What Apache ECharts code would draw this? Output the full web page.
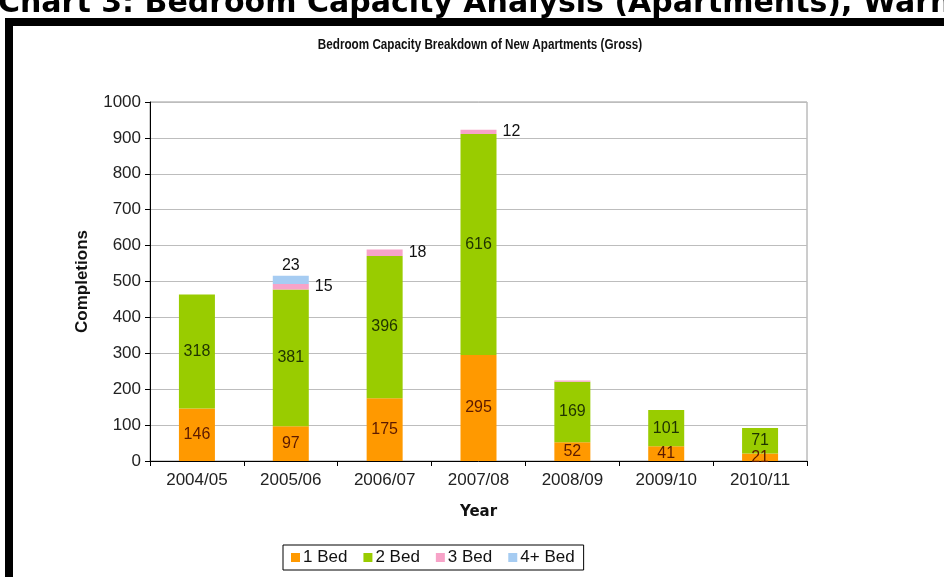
<!DOCTYPE html>
<html>
<head>
<meta charset="utf-8">
<style>
  html, body { margin: 0; padding: 0; background: #fff; }
  #chart { width: 944px; height: 577px; }
</style>
<script src="https://cdn.jsdelivr.net/npm/echarts@6/dist/echarts.min.js"></script>
</head>
<body>
<div id="chart"></div>
<script>
// Financial years on the category axis
const years = ['2004/05', '2005/06', '2006/07', '2007/08', '2008/09', '2009/10', '2010/11'];

// Completions by bedroom count
const oneBed  = [146, 97, 175, 295, 52, 41, 21];
const twoBed  = [318, 381, 396, 616, 169, 101, 71];
const threeBed = [0, 15, 18, 12, 3, 0, 0];
const fourPlusBed = [0, 23, 0, 0, 0, 0, 0];

// Which small segments carry a value label
const threeBedLabelled = [false, true, true, true, false, false, false];
const fourBedLabelled  = [false, true, false, false, false, false, false];

// Value-axis ticks
const yTicks = { min: 0, max: 1000, interval: 100 };

const seriesNames = ['1 Bed', '2 Bed', '3 Bed', '4+ Bed'];

const chartTitle = 'Bedroom Capacity Breakdown of New Apartments (Gross)';
const pageHeading = 'Chart 3: Bedroom Capacity Analysis (Apartments), Warnings';

const chart = echarts.init(document.getElementById('chart'), null, { renderer: 'canvas' });

const plain = "'Liberation Sans', Arial, sans-serif";

function withLabels(values, flags, labelCfg) {
  return values.map((v, i) => ({
    value: v,
    label: flags[i] ? labelCfg : { show: false }
  }));
}

const option = {
  backgroundColor: '#ffffff',
  animation: false,
  graphic: [
    {
      type: 'text',
      left: -2,
      top: -11,
      style: {
        text: pageHeading,
        font: "bold 30px 'DejaVu Sans', Verdana, sans-serif",
        fill: '#000'
      }
    },
    { type: 'rect', shape: { x: 5, y: 18, width: 939, height: 8 }, style: { fill: '#000' } },
    { type: 'rect', shape: { x: 5, y: 18, width: 8, height: 559 }, style: { fill: '#000' } },
    {
      // condensed bold chart title
      type: 'text',
      x: 480,
      y: 45,
      scaleX: 0.78,
      style: {
        text: chartTitle,
        font: "bold 15px 'Liberation Sans', Arial, sans-serif",
        fill: '#111',
        textAlign: 'center',
        textVerticalAlign: 'middle'
      }
    }
  ],
  legend: {
    data: seriesNames,
    bottom: 7,
    left: 283,
    icon: 'rect',
    itemWidth: 9,
    itemHeight: 9,
    itemGap: 16,
    padding: [4, 9, 4, 8],
    borderColor: '#000',
    borderWidth: 1,
    textStyle: { fontFamily: plain, fontSize: 17, color: '#111', padding: [0, 0, 0, -2] }
  },
  grid: {
    left: 150, right: 137, top: 102, bottom: 116,
    show: true, borderColor: '#9a9a9a', borderWidth: 1
  },
  xAxis: {
    type: 'category',
    data: years,
    name: 'Year',
    nameLocation: 'middle',
    nameGap: 44,
    nameTextStyle: { fontFamily: "'DejaVu Sans', Verdana, sans-serif", fontWeight: 'bold', fontSize: 15, color: '#111' },
    axisLine: { lineStyle: { color: '#000', width: 1 } },
    axisTick: { show: true, alignWithLabel: false, length: 5, lineStyle: { color: '#000' } },
    axisLabel: { fontFamily: plain, fontSize: 17, color: '#222', margin: 11 }
  },
  yAxis: {
    type: 'value',
    min: yTicks.min,
    max: yTicks.max,
    interval: yTicks.interval,
    name: 'Completions',
    nameLocation: 'middle',
    nameGap: 59,
    nameTextStyle: { fontFamily: plain, fontWeight: 'bold', fontSize: 17, color: '#111' },
    axisLine: { show: true, lineStyle: { color: '#000', width: 1 } },
    axisTick: { show: true, length: 5, lineStyle: { color: '#000' } },
    axisLabel: { fontFamily: plain, fontSize: 17, color: '#222', margin: 9, formatter: v => String(v) },
    splitLine: { lineStyle: { color: '#bdbdbd', width: 1 } }
  },
  series: [
    {
      name: '1 Bed', type: 'bar', stack: 'total', barWidth: 36,
      itemStyle: { color: '#ff9900' },
      label: { show: true, position: 'inside', fontFamily: plain, fontSize: 16, color: '#5c1a00' },
      data: oneBed
    },
    {
      name: '2 Bed', type: 'bar', stack: 'total',
      itemStyle: { color: '#99cc00' },
      label: { show: true, position: 'inside', fontFamily: plain, fontSize: 16, color: '#1f3300' },
      data: twoBed
    },
    {
      name: '3 Bed', type: 'bar', stack: 'total',
      itemStyle: { color: '#f7a3c8' },
      data: withLabels(threeBed, threeBedLabelled, {
        show: true, position: 'right', distance: 6, fontFamily: plain, fontSize: 16, color: '#111'
      })
    },
    {
      name: '4+ Bed', type: 'bar', stack: 'total',
      itemStyle: { color: '#a6ccf2' },
      data: withLabels(fourPlusBed, fourBedLabelled, {
        show: true, position: 'top', distance: 2, fontFamily: plain, fontSize: 16, color: '#111'
      })
    }
  ]
};

chart.setOption(option);
</script>
</body>
</html>
